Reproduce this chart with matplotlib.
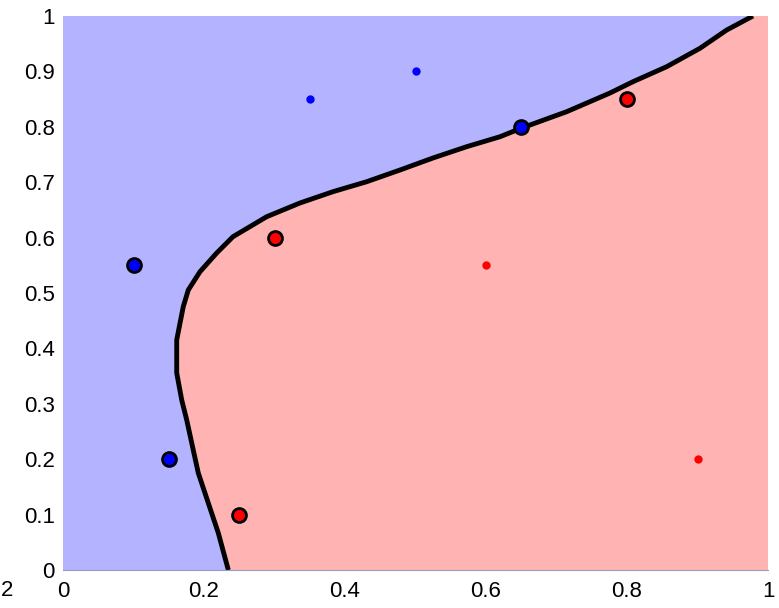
import numpy as np
import matplotlib
matplotlib.use('Agg')
import matplotlib.pyplot as plt

# decision boundary (x, y)
bx = [0.2345, 0.2203, 0.2061, 0.1919, 0.1826, 0.1755, 0.1684, 0.1613, 0.1613,
      0.1660, 0.1706, 0.1777, 0.1943, 0.2180, 0.2411, 0.2889, 0.3362, 0.3830,
      0.4308, 0.4780, 0.5248, 0.5726, 0.6199, 0.6506, 0.7145, 0.7759, 0.8085,
      0.8563, 0.9035, 0.9414, 0.9787]
by = [0.0, 0.0668, 0.1209, 0.1751, 0.2292, 0.2708, 0.3069, 0.3556, 0.4152,
      0.4458, 0.4753, 0.5054, 0.5384, 0.5722, 0.6016, 0.6377, 0.6625, 0.6829,
      0.7009, 0.7220, 0.7437, 0.7641, 0.7821, 0.7978, 0.8273, 0.8610, 0.8814,
      0.9085, 0.9417, 0.9747, 1.0]

# support vectors
sv_blue_x = [0.10, 0.15, 0.65]
sv_blue_y = [0.55, 0.20, 0.80]
sv_red_x = [0.25, 0.30, 0.80]
sv_red_y = [0.10, 0.60, 0.85]

# other samples
pt_blue_x = [0.35, 0.50]
pt_blue_y = [0.85, 0.90]
pt_red_x = [0.60, 0.90]
pt_red_y = [0.55, 0.20]

plt.rcParams['font.family'] = ['Liberation Sans', 'DejaVu Sans']

fig = plt.figure(figsize=(7.79, 6.08), dpi=100)
ax = fig.add_axes([63 / 779, 38 / 608, 705 / 779, 554 / 608])
ax.set_facecolor('#b3b3ff')

px = bx + [1.0, 1.0]
py = by + [1.0, 0.0]
ax.fill(px, py, color='#ffb3b3', lw=0, zorder=1)
ax.plot(bx, by, color='black', lw=3.5, zorder=2, solid_capstyle='butt',
        solid_joinstyle='round')

ax.plot(sv_blue_x, sv_blue_y, 'o', color='blue', mec='black', mew=2, ms=10, zorder=3)
ax.plot(sv_red_x, sv_red_y, 'o', color='red', mec='black', mew=2, ms=10, zorder=3)
ax.plot(pt_blue_x, pt_blue_y, 'o', color='blue', ms=6, mew=0, zorder=3)
ax.plot(pt_red_x, pt_red_y, 'o', color='red', ms=6, mew=0, zorder=3)

ax.set_xlim(0, 1)
ax.set_ylim(0, 1)
ax.set_xticks(np.arange(0, 1.01, 0.2))
ax.set_xticklabels(['0', '0.2', '0.4', '0.6', '0.8', '1'])
ax.set_yticks(np.arange(0, 1.01, 0.1))
ax.set_yticklabels(['0', '0.1', '0.2', '0.3', '0.4', '0.5', '0.6', '0.7', '0.8', '0.9', '1'])
ax.tick_params(length=0, labelsize=16)
ax.tick_params(axis='y', pad=6)
ax.tick_params(axis='x', pad=8)
for s in ['top', 'right', 'left']:
    ax.spines[s].set_visible(False)
ax.spines['bottom'].set_color('#9a9ac8')
ax.spines['bottom'].set_linewidth(0.8)

fig.text(13 / 779, 1 - 590 / 608, '2', fontsize=16, ha='right', va='center')

fig.savefig('out.png', dpi=100)
